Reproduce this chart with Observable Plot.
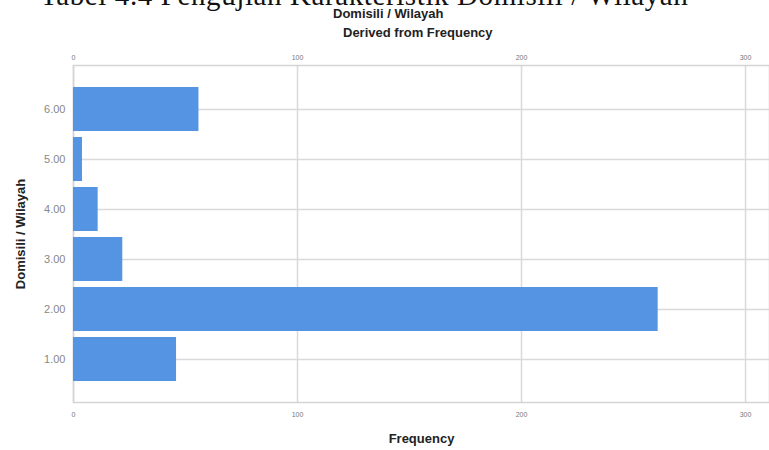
<!DOCTYPE html>
<html><head><meta charset="utf-8">
<script src="https://cdn.jsdelivr.net/npm/d3@7"></script>
<script src="https://cdn.jsdelivr.net/npm/@observablehq/plot@0.6"></script>
<style>
body{margin:0;background:#fff;}
#wrap{position:relative;width:769px;height:450px;overflow:hidden;font-family:"Liberation Sans",Arial,sans-serif;}
.t{position:absolute;white-space:nowrap;color:#222;}
</style></head><body>
<div id="wrap">
<div class="t" style="left:40px;top:-21px;font-family:'Liberation Serif',serif;font-size:29px;color:#111;letter-spacing:0.6px;">Tabel 4.4 Pengujian Karakteristik Domisili / Wilayah</div>
<div id="chart" style="position:absolute;left:0;top:0;"></div>
<div class="t" style="left:331px;top:6px;font-size:13px;font-weight:bold;background:#fff;line-height:15px;padding:0 2px;">Domisili / Wilayah</div>
<div class="t" style="left:343px;top:25px;font-size:13px;font-weight:bold;">Derived from Frequency</div>
</div>
<script>
const categories = ["6.00","5.00","4.00","3.00","2.00","1.00"];
const frequencies = [56, 4, 11, 22, 261, 46];
const xTicks = [0, 100, 200, 300];
const xLabel = "Frequency";
const yLabel = "Domisili / Wilayah";

const data = categories.map((c, i) => ({cat: c, freq: frequencies[i]}));

const chart = Plot.plot({
  width: 769, height: 450,
  marginLeft: 73, marginRight: 0, marginTop: 65, marginBottom: 48,
  style: {fontFamily: "Liberation Sans, Arial, sans-serif", background: "transparent"},
  x: {domain: [0, 310.7], ticks: xTicks, label: null},
  y: {domain: categories, paddingInner: 0.12, paddingOuter: 0.37, label: null},
  marks: [
    Plot.gridX(xTicks, {stroke: "#d9d9d9", strokeOpacity: 1, strokeWidth: 1.5}),
    Plot.gridY({stroke: "#d9d9d9", strokeOpacity: 1, strokeWidth: 1.5}),
    Plot.frame({stroke: "#d4d4d4", strokeWidth: 1.5}),
    Plot.barX(data, {x: "freq", y: "cat", fill: "#5494e2"}),
    Plot.axisX(xTicks, {anchor: "bottom", tickSize: 0, tickPadding: 10, fontSize: 7, fill: "#777", tickFormat: d => d, label: xLabel, labelAnchor: "center", labelArrow: "none", labelOffset: 40}),
    Plot.axisX(xTicks, {anchor: "top", tickSize: 0, tickPadding: 6, fontSize: 7, fill: "#777", tickFormat: d => d, label: null}),
    Plot.axisY({tickSize: 0, tickPadding: 8, fontSize: 11, fill: "#888", label: yLabel, labelAnchor: "center", labelArrow: "none", labelOffset: 58})
  ]
});
chart.querySelectorAll("g[aria-label='x-axis label'] text, g[aria-label='y-axis label'] text").forEach(t => {
  t.setAttribute("font-weight", "bold"); t.setAttribute("font-size", "13"); t.setAttribute("fill", "#222");
});
document.getElementById("chart").appendChild(chart);
</script>
</body></html>
